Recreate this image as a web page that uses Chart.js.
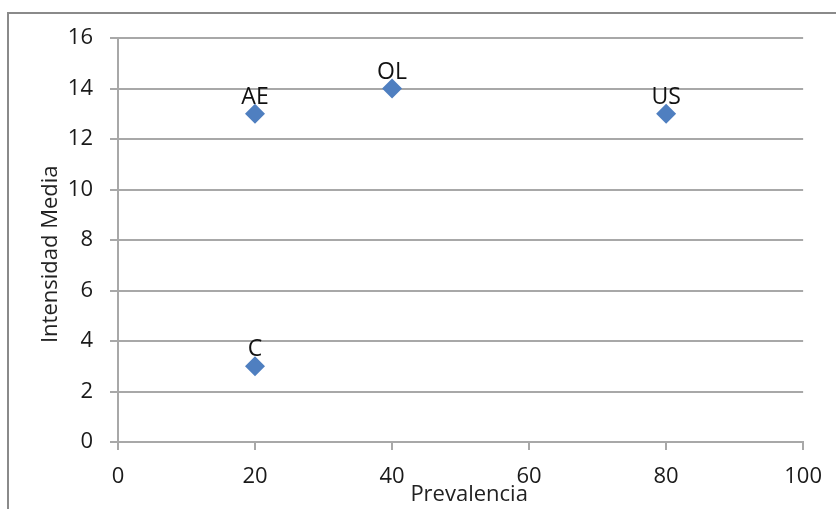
<!DOCTYPE html>
<html>
<head>
<meta charset="utf-8">
<script src="https://cdn.jsdelivr.net/npm/chart.js@4"></script>
<style>
  html, body { margin: 0; padding: 0; background: #fff; }
  #wrap { position: relative; width: 836px; height: 509px; }
  #frame { position: absolute; left: 7px; top: 12px; width: 829px; height: 497px;
           border-top: 2px solid #8a8a8a; border-left: 2px solid #8a8a8a; box-sizing: border-box; }
  canvas { position: absolute; left: 0; top: 0; }
</style>
</head>
<body>
<div id="wrap">
  <div id="frame"></div>
  <canvas id="chart" width="836" height="509"></canvas>
</div>
<script>
// datos
const etiquetas = ['AE', 'OL', 'US', 'C'];
const prevalencia = [20, 40, 80, 20];
const intensidad = [13, 14, 13, 3];
const xTicks = [0, 20, 40, 60, 80, 100];
const yTicks = [0, 2, 4, 6, 8, 10, 12, 14, 16];

const puntos = prevalencia.map((p, i) => ({ x: p, y: intensidad[i] }));
const fuente = '"Open Sans", "Liberation Sans", sans-serif';

// etiquetas encima de cada punto
const pointLabels = {
  id: 'pointLabels',
  afterDatasetsDraw(chart) {
    const c = chart.ctx;
    const meta = chart.getDatasetMeta(0);
    c.save();
    c.font = '23px ' + fuente;
    c.fillStyle = '#111';
    c.textAlign = 'center';
    c.textBaseline = 'alphabetic';
    meta.data.forEach((pt, i) => {
      c.fillText(etiquetas[i], pt.x, pt.y - 10);
    });
    c.restore();
  }
};

const ctx = document.getElementById('chart').getContext('2d');
const chart = new Chart(ctx, {
  type: 'scatter',
  data: {
    datasets: [{
      label: 'Intensidad Media',
      data: puntos,
      pointStyle: 'rectRot',
      pointRadius: 10,
      backgroundColor: '#4f7fc0',
      borderColor: '#4f7fc0',
      borderWidth: 0
    }]
  },
  options: {
    responsive: false,
    animation: false,
    layout: { padding: { left: 38, top: 38, right: 30, bottom: 0 } },
    plugins: {
      legend: { display: false },
      tooltip: { enabled: false }
    },
    scales: {
      x: {
        type: 'linear',
        min: 0,
        max: 100,
        afterBuildTicks: (s) => { s.ticks = xTicks.map(v => ({ value: v })); },
        afterFit: (s) => { s.height = 67; },
        grid: { drawOnChartArea: false, drawTicks: true, tickLength: 8, color: '#a8a8a8', lineWidth: 2 },
        border: { color: '#a8a8a8', width: 2 },
        ticks: {
          padding: 14,
          color: '#1a1a1a',
          font: { size: 22, family: fuente }
        },
        title: {
          display: true,
          // espacios delante: el título va un poco a la derecha del centro
          text: '   Prevalencia',
          color: '#222',
          padding: { top: 0, bottom: 1 },
          font: { size: 22, family: fuente }
        }
      },
      y: {
        type: 'linear',
        min: 0,
        max: 16,
        afterBuildTicks: (s) => { s.ticks = yTicks.map(v => ({ value: v })); },
        afterFit: (s) => { s.width = 80; },
        grid: { drawOnChartArea: true, drawTicks: true, tickLength: 8, color: '#a8a8a8', lineWidth: 2 },
        border: { color: '#a8a8a8', width: 2 },
        ticks: {
          padding: 17,
          color: '#1a1a1a',
          font: { size: 22, family: fuente }
        },
        title: {
          display: true,
          // espacios detrás: baja el título respecto al centro
          text: 'Intensidad Media     ',
          color: '#222',
          padding: 0,
          font: { size: 22, family: fuente }
        }
      }
    }
  },
  plugins: [pointLabels]
});
</script>
</body>
</html>
